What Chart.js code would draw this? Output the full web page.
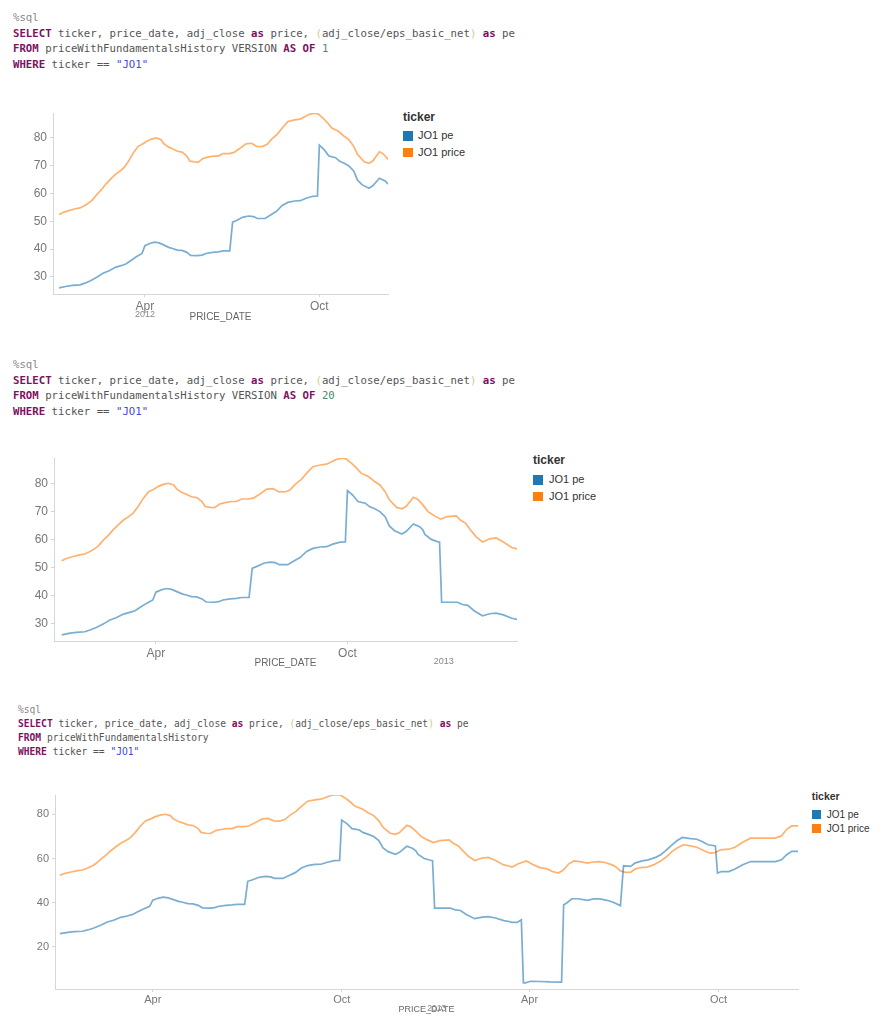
<!DOCTYPE html>
<html>
<head>
<meta charset="utf-8">
<script src="https://cdn.jsdelivr.net/npm/chart.js@4.4.1/dist/chart.umd.min.js"></script>
<style>
  body { margin: 0; background: #fff; width: 895px; height: 1024px; position: relative; overflow: hidden;
         font-family: "Liberation Sans", Arial, sans-serif; }
  pre.sql { position: absolute; margin: 0; font-family: "DejaVu Sans Mono", monospace; color: #555; }
  .kw { color: #7d1161; font-weight: bold; }
  .num { color: #4f8a68; }
  .str { color: #4545e6; }
  .br { color: #d8c98a; }
  .cm { color: #888; }
  canvas { position: absolute; left: 0; }
  .lg { position: absolute; color: #333; white-space: nowrap; }
</style>
</head>
<body>

<pre class="sql" style="left:13px; top:10px; font-size:10.7px; line-height:15.7px;"><span class="cm">%sql</span>
<span class="kw">SELECT</span> ticker, price_date, adj_close <span class="kw">as</span> price, <span class="br">(</span>adj_close/eps_basic_net<span class="br">)</span> <span class="kw">as</span> pe
<span class="kw">FROM</span> priceWithFundamentalsHistory VERSION <span class="kw">AS</span> <span class="kw">OF</span> <span class="num">1</span>
<span class="kw">WHERE</span> ticker == <span class="str">"JO1"</span></pre>

<pre class="sql" style="left:13px; top:357px; font-size:10.7px; line-height:15.5px;"><span class="cm">%sql</span>
<span class="kw">SELECT</span> ticker, price_date, adj_close <span class="kw">as</span> price, <span class="br">(</span>adj_close/eps_basic_net<span class="br">)</span> <span class="kw">as</span> pe
<span class="kw">FROM</span> priceWithFundamentalsHistory VERSION <span class="kw">AS</span> <span class="kw">OF</span> <span class="num">20</span>
<span class="kw">WHERE</span> ticker == <span class="str">"JO1"</span></pre>

<pre class="sql" style="left:18px; top:703px; font-size:9.6px; line-height:13.9px;"><span class="cm">%sql</span>
<span class="kw">SELECT</span> ticker, price_date, adj_close <span class="kw">as</span> price, <span class="br">(</span>adj_close/eps_basic_net<span class="br">)</span> <span class="kw">as</span> pe
<span class="kw">FROM</span> priceWithFundamentalsHistory
<span class="kw">WHERE</span> ticker == <span class="str">"JO1"</span></pre>

<canvas id="chart1" width="392" height="223" style="top:100px"></canvas>
<canvas id="chart2" width="520" height="224" style="top:445px"></canvas>
<canvas id="chart3" width="800" height="233" style="top:782px"></canvas>

<script>
// Series
const seriesNames = ["JO1 pe", "JO1 price"];
const seriesColors = ["#1f77b4", "#ff7f0e"];
const lineColors = ["rgba(31,119,180,0.6)", "rgba(255,127,14,0.6)"];

// JO1 price (adj_close)
const priceDates = [
  "2012-01-02","2012-01-07","2012-01-13","2012-01-19","2012-01-24","2012-01-29","2012-02-03","2012-02-06",
  "2012-02-11","2012-02-16","2012-02-20","2012-02-25","2012-03-01","2012-03-06","2012-03-10","2012-03-15",
  "2012-03-20","2012-03-25","2012-03-30","2012-04-03","2012-04-08","2012-04-13","2012-04-18","2012-04-21",
  "2012-04-26","2012-04-30","2012-05-05","2012-05-10","2012-05-15","2012-05-18","2012-05-23","2012-05-27",
  "2012-06-01","2012-06-06","2012-06-12","2012-06-17","2012-06-22","2012-06-28","2012-07-03","2012-07-09",
  "2012-07-16","2012-07-22","2012-07-27","2012-08-02","2012-08-07","2012-08-12","2012-08-18","2012-08-23",
  "2012-08-29","2012-09-05","2012-09-11","2012-09-16","2012-09-21","2012-09-27","2012-09-30","2012-10-05",
  "2012-10-10","2012-10-14","2012-10-21","2012-10-27","2012-11-01","2012-11-06","2012-11-10","2012-11-17",
  "2012-11-22","2012-11-26","2012-12-03","2012-12-07","2012-12-12","2012-12-17","2012-12-23","2012-12-29",
  "2013-01-04","2013-01-13","2013-01-17","2013-01-22","2013-01-27","2013-02-01","2013-02-07","2013-02-14",
  "2013-02-20","2013-02-27","2013-03-07","2013-03-12","2013-03-15","2013-03-21","2013-03-29","2013-04-05",
  "2013-04-11","2013-04-18","2013-04-23","2013-04-29","2013-05-04","2013-05-09","2013-05-14","2013-05-20",
  "2013-05-27","2013-05-31","2013-06-07","2013-06-13","2013-06-20","2013-06-23","2013-06-28","2013-07-03",
  "2013-07-08","2013-07-12","2013-07-17","2013-07-24","2013-07-30","2013-08-06","2013-08-12","2013-08-17",
  "2013-08-22","2013-08-28","2013-09-04","2013-09-10","2013-09-17","2013-09-23","2013-09-28","2013-10-03",
  "2013-10-11","2013-10-17","2013-10-24","2013-11-01","2013-11-09","2013-11-17","2013-11-25","2013-12-01",
  "2013-12-06","2013-12-11","2013-12-17"
];
const priceValues = [
  52.4, 53.3, 53.9, 54.5, 54.8, 55.7, 56.8, 57.7,
  59.8, 61.6, 63.4, 65.2, 66.9, 68.1, 69.3, 71.7,
  74.7, 77.0, 77.9, 78.8, 79.6, 80.0, 79.4, 77.9,
  76.7, 76.1, 75.2, 74.9, 73.5, 71.7, 71.4, 71.3,
  72.6, 73.1, 73.5, 73.5, 74.4, 74.4, 74.7, 76.1,
  77.9, 78.1, 77.0, 76.9, 77.6, 79.6, 81.4, 83.6,
  85.9, 86.5, 86.8, 87.7, 88.6, 88.9, 88.6, 87.1,
  85.3, 83.6, 82.4, 80.6, 79.4, 77.0, 74.1, 71.4,
  70.9, 71.7, 75.0, 74.3, 72.3, 69.9, 68.4, 67.2,
  68.1, 68.4, 66.9, 65.7, 63.2, 60.9, 59.1, 60.2,
  60.5, 59.1, 57.1, 56.6, 56.1, 57.6, 58.9, 57.1,
  55.9, 55.3, 54.1, 53.4, 54.9, 57.6, 58.9, 58.6,
  57.9, 58.3, 58.6, 58.2, 57.1, 56.4, 54.4, 53.7,
  53.8, 55.2, 55.9, 56.1, 57.1, 58.9, 60.9, 63.2,
  64.7, 66.2, 65.7, 65.1, 63.5, 62.4, 62.7, 63.9,
  64.2, 65.1, 67.2, 69.2, 69.2, 69.2, 69.2, 70.2,
  73.2, 74.7, 74.7
];

// JO1 pe (adj_close / eps_basic_net)
const peDates = [
  "2012-01-02","2012-01-10","2012-01-16","2012-01-24","2012-01-29","2012-02-04","2012-02-11","2012-02-17",
  "2012-02-23","2012-03-01","2012-03-07","2012-03-12","2012-03-17","2012-03-23","2012-03-29","2012-04-01",
  "2012-04-06","2012-04-11","2012-04-16","2012-04-21","2012-04-26","2012-04-30","2012-05-05","2012-05-10",
  "2012-05-15","2012-05-19","2012-05-26","2012-05-31","2012-06-04","2012-06-11","2012-06-17","2012-06-22",
  "2012-06-29","2012-07-02","2012-07-06","2012-07-13","2012-07-19","2012-07-24","2012-07-28","2012-08-05",
  "2012-08-10","2012-08-17","2012-08-23","2012-08-29","2012-09-05","2012-09-11","2012-09-17","2012-09-24",
  "2012-09-29","2012-10-01","2012-10-06","2012-10-11","2012-10-18","2012-10-22","2012-10-27","2012-11-01",
  "2012-11-06","2012-11-10","2012-11-15","2012-11-22","2012-11-26","2012-12-03","2012-12-09","2012-12-12",
  "2012-12-14","2012-12-20","2012-12-26","2012-12-28","2012-12-30","2013-01-08","2013-01-14","2013-01-19",
  "2013-01-24","2013-01-30","2013-02-07","2013-02-14","2013-02-20","2013-02-27","2013-03-07","2013-03-12",
  "2013-03-15","2013-03-20","2013-03-24","2013-03-26","2013-03-28","2013-04-02","2013-04-11","2013-04-21",
  "2013-05-02","2013-05-04","2013-05-07","2013-05-12","2013-05-18","2013-05-27","2013-06-02","2013-06-08",
  "2013-06-15","2013-06-21","2013-06-28","2013-07-01","2013-07-08","2013-07-12","2013-07-19","2013-07-25",
  "2013-08-01","2013-08-06","2013-08-10","2013-08-17","2013-08-22","2013-08-27","2013-09-04","2013-09-10",
  "2013-09-15","2013-09-21","2013-09-28","2013-09-30","2013-10-04","2013-10-11","2013-10-17","2013-10-24",
  "2013-11-01","2013-11-09","2013-11-17","2013-11-25","2013-12-01","2013-12-06","2013-12-11","2013-12-17"
];
const peValues = [
  26.0, 26.6, 26.9, 27.1, 27.7, 28.6, 29.9, 31.3,
  32.1, 33.4, 34.0, 34.6, 35.8, 37.2, 38.4, 41.2,
  42.0, 42.5, 42.2, 41.4, 40.6, 40.2, 39.6, 39.5,
  38.8, 37.7, 37.6, 37.8, 38.4, 38.8, 39.0, 39.3,
  39.3, 49.7, 50.3, 51.5, 51.9, 51.7, 51.0, 51.0,
  52.1, 53.6, 55.7, 56.8, 57.3, 57.4, 58.3, 59.0,
  59.1, 77.4, 75.8, 73.5, 72.9, 71.7, 70.9, 69.9,
  68.1, 64.8, 63.1, 61.9, 62.8, 65.5, 64.5, 63.4,
  61.8, 60.0, 59.2, 59.0, 37.6, 37.6, 37.6, 36.8,
  36.5, 34.6, 32.8, 33.5, 33.7, 33.1, 31.9, 31.5,
  31.1, 31.1, 32.3, 3.8, 3.8, 4.5, 4.4, 4.2,
  4.1, 39.1, 39.9, 41.8, 41.8, 41.1, 41.7, 41.7,
  41.1, 40.2, 38.7, 56.7, 56.4, 57.9, 58.9, 59.4,
  60.5, 61.7, 63.2, 66.2, 68.1, 69.5, 69.0, 68.7,
  67.7, 66.2, 65.7, 53.4, 54.1, 54.1, 55.2, 57.1,
  58.6, 58.6, 58.6, 58.6, 59.4, 61.7, 63.2, 63.2
];

// Axis ticks
const monthTickDates = ["2012-04-01", "2012-10-01", "2013-04-01", "2013-10-01"];
const monthNames = ["Jan", "Feb", "Mar", "Apr", "May", "Jun", "Jul", "Aug", "Sep", "Oct", "Nov", "Dec"];
const yTicksShort = [30, 40, 50, 60, 70, 80];
const yTicksFull = [20, 40, 60, 80];

Chart.defaults.font.family = "'Liberation Sans', Arial, sans-serif";

// days since 2012-01-01
function toDay(s) {
  const p = s.split("-").map(Number);
  return (Date.UTC(p[0], p[1] - 1, p[2]) - Date.UTC(2012, 0, 1)) / 86400000;
}

function points(dates, values, endDate) {
  const end = toDay(endDate);
  return dates.map((d, i) => ({x: toDay(d), y: values[i]})).filter(p => p.x <= end);
}

// year captions sit on the axis title line
const yearLabels = {
  id: "yearLabels",
  afterDraw(chart, args, opts) {
    const xs = chart.scales.x;
    const ctx = chart.ctx;
    ctx.save();
    ctx.font = opts.size + "px 'Liberation Sans', Arial, sans-serif";
    ctx.fillStyle = "#888";
    ctx.textAlign = "center";
    ctx.textBaseline = "middle";
    opts.marks.forEach(m => {
      ctx.fillText(m[1], xs.getPixelForValue(toDay(m[0])), xs.bottom - opts.offset);
    });
    ctx.restore();
  }
};

function renderChart(id, v) {
  const xMax = toDay(v.end);
  const ticks = monthTickDates.filter(d => toDay(d) >= v.xMin && toDay(d) <= xMax);
  const axisColor = "#d6d6d6";

  const config = {
    type: "line",
    data: {
      datasets: [
        {label: seriesNames[0], data: points(peDates, peValues, v.end), borderColor: lineColors[0]},
        {label: seriesNames[1], data: points(priceDates, priceValues, v.end), borderColor: lineColors[1]}
      ]
    },
    options: {
      responsive: false,
      animation: false,
      events: [],
      layout: {padding: {top: 13, right: v.padRight, left: 0, bottom: 0}},
      elements: {
        line: {borderWidth: 1.7, tension: 0, fill: false},
        point: {radius: 0, hoverRadius: 0}
      },
      plugins: {
        legend: {display: false},
        tooltip: {enabled: false},
        yearLabels: {marks: v.years, size: v.yearFont, offset: v.yearOffset}
      },
      scales: {
        x: {
          type: "linear",
          bounds: "data",
          min: v.xMin,
          max: xMax,
          afterBuildTicks: s => { s.ticks = ticks.map(d => ({value: toDay(d)})); },
          afterFit: s => { s.height = v.xHeight; },
          ticks: {
            autoSkip: false, maxRotation: 0, padding: v.xPad, color: "#777",
            font: {size: v.tickFont},
            callback: (value, i) => monthNames[Number(ticks[i].split("-")[1]) - 1]
          },
          grid: {drawOnChartArea: false, tickLength: 3, color: axisColor},
          border: {color: axisColor},
          title: {display: true, text: "PRICE_DATE", color: "#666", font: {size: v.titleFont}, padding: 0}
        },
        y: {
          bounds: "data",
          min: v.yMin,
          max: v.yMax,
          afterBuildTicks: s => { s.ticks = v.yTicks.map(t => ({value: t})); },
          afterFit: s => { s.width = v.yWidth; },
          ticks: {padding: 3, color: "#777", font: {size: v.tickFont}},
          grid: {drawOnChartArea: false, tickLength: 3, color: axisColor},
          border: {color: axisColor}
        }
      }
    },
    plugins: [yearLabels]
  };

  new Chart(document.getElementById(id), config);
}

// HTML legend with "ticker" header
function renderLegend(l) {
  const title = document.createElement("div");
  title.className = "lg";
  title.textContent = "ticker";
  title.style.cssText = `left:${l.left}px; top:${l.titleY - l.titleSize * 0.6}px; font-size:${l.titleSize}px; font-weight:bold; line-height:${l.titleSize * 1.2}px;`;
  document.body.appendChild(title);

  seriesNames.forEach((name, i) => {
    const top = l.boxTop + i * l.rowGap;
    const sw = document.createElement("div");
    sw.className = "lg";
    sw.style.cssText = `left:${l.left}px; top:${top}px; width:${l.box}px; height:${l.box}px; background:${seriesColors[i]};`;
    document.body.appendChild(sw);

    const txt = document.createElement("div");
    txt.className = "lg";
    txt.textContent = name;
    txt.style.cssText = `left:${l.left + l.textGap}px; top:${top + l.box / 2 - l.textSize * 0.6}px; font-size:${l.textSize}px; line-height:${l.textSize * 1.2}px;`;
    document.body.appendChild(txt);
  });
}

renderChart("chart1", {
  end: "2012-12-12", xMin: -5.4, yMin: 23.8, yMax: 89, yTicks: yTicksShort,
  yWidth: 53, xHeight: 29, xPad: 2.5, padRight: 4, tickFont: 12, titleFont: 10,
  years: [["2012-04-01", "2012"]], yearFont: 9, yearOffset: 8
});
renderChart("chart2", {
  end: "2013-03-12", xMin: -6.4, yMin: 23.8, yMax: 89, yTicks: yTicksShort,
  yWidth: 54, xHeight: 28, xPad: 2.5, padRight: 3, tickFont: 12, titleFont: 10,
  years: [["2013-01-01", "2013"]], yearFont: 9, yearOffset: 7.3
});
renderChart("chart3", {
  end: "2013-12-17", xMin: -3.7, yMin: 1, yMax: 88.7, yTicks: yTicksFull,
  yWidth: 55, xHeight: 26, xPad: 1, padRight: 2, tickFont: 11, titleFont: 9,
  years: [["2013-01-01", "2013"]], yearFont: 8.5, yearOffset: 6
});

renderLegend({left: 403, titleY: 116.7, boxTop: 131, rowGap: 16.7, box: 9.5, textGap: 15, titleSize: 12, textSize: 11});
renderLegend({left: 533, titleY: 460, boxTop: 475, rowGap: 16.7, box: 9.5, textGap: 16, titleSize: 12, textSize: 11});
renderLegend({left: 811.7, titleY: 796, boxTop: 810, rowGap: 14.3, box: 9, textGap: 15, titleSize: 10.5, textSize: 10});
</script>
</body>
</html>
